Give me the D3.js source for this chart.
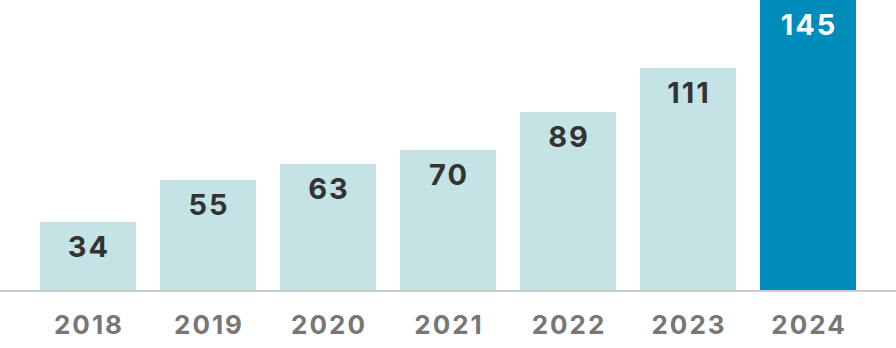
<!DOCTYPE html>
<html>
<head>
<meta charset="utf-8">
<script src="https://cdn.jsdelivr.net/npm/d3@7"></script>
<style>
  body { margin: 0; background: #fff; }
  svg { display: block; }
</style>
</head>
<body>
<div id="chart"></div>
<script>
'use strict';

const years = ["2018", "2019", "2020", "2021", "2022", "2023", "2024"];
const values = [34, 55, 63, 70, 89, 111, 145];
const highlightYear = "2024";

const width = 896, height = 348;
const baseY = 290;

const svg = d3.select("#chart").append("svg")
  .attr("width", width)
  .attr("height", height);

const x = d3.scaleBand()
  .domain(years)
  .range([28, 868])
  .paddingInner(0.2)
  .paddingOuter(0.1);

const y = d3.scaleLinear()
  .domain([0, 145])
  .range([baseY, 0]);

const data = years.map((yr, i) => ({year: yr, value: values[i]}));

//bars
svg.selectAll("rect.bar").data(data).enter().append("rect")
  .attr("class", "bar")
  .attr("x", d => x(d.year))
  .attr("y", d => y(d.value))
  .attr("width", x.bandwidth())
  .attr("height", d => y(0) - y(d.value))
  .attr("fill", d => d.year === highlightYear ? "#008cba" : "#c5e3e5");

//baseline
svg.append("line")
  .attr("x1", 0).attr("x2", width)
  .attr("y1", baseY + 1).attr("y2", baseY + 1)
  .attr("stroke", "#cccccc")
  .attr("stroke-width", 2);

//value labels
svg.selectAll("text.value").data(data).enter().append("text")
  .attr("class", "value")
  .attr("x", d => x(d.year) + x.bandwidth() / 2 + 1)
  .attr("y", d => y(d.value) + 35)
  .attr("text-anchor", "middle")
  .attr("font-family", "Inter, Roboto, sans-serif")
  .attr("font-weight", 700)
  .attr("font-size", 29)
  .attr("letter-spacing", 2)
  .attr("fill", d => d.year === highlightYear ? "#ffffff" : "#333333")
  .text(d => d.value);

//year axis
const xAxis = svg.append("g")
  .attr("transform", `translate(0,${baseY})`)
  .call(d3.axisBottom(x).tickSize(0).tickPadding(0));
xAxis.select(".domain").remove();
xAxis.selectAll("text")
  .attr("y", 44)
  .attr("dy", null)
  .attr("dx", 1)
  .attr("font-family", "Inter, Roboto, sans-serif")
  .attr("font-weight", 700)
  .attr("font-size", 26)
  .attr("letter-spacing", 2)
  .attr("fill", "#777777");
</script>
</body>
</html>
